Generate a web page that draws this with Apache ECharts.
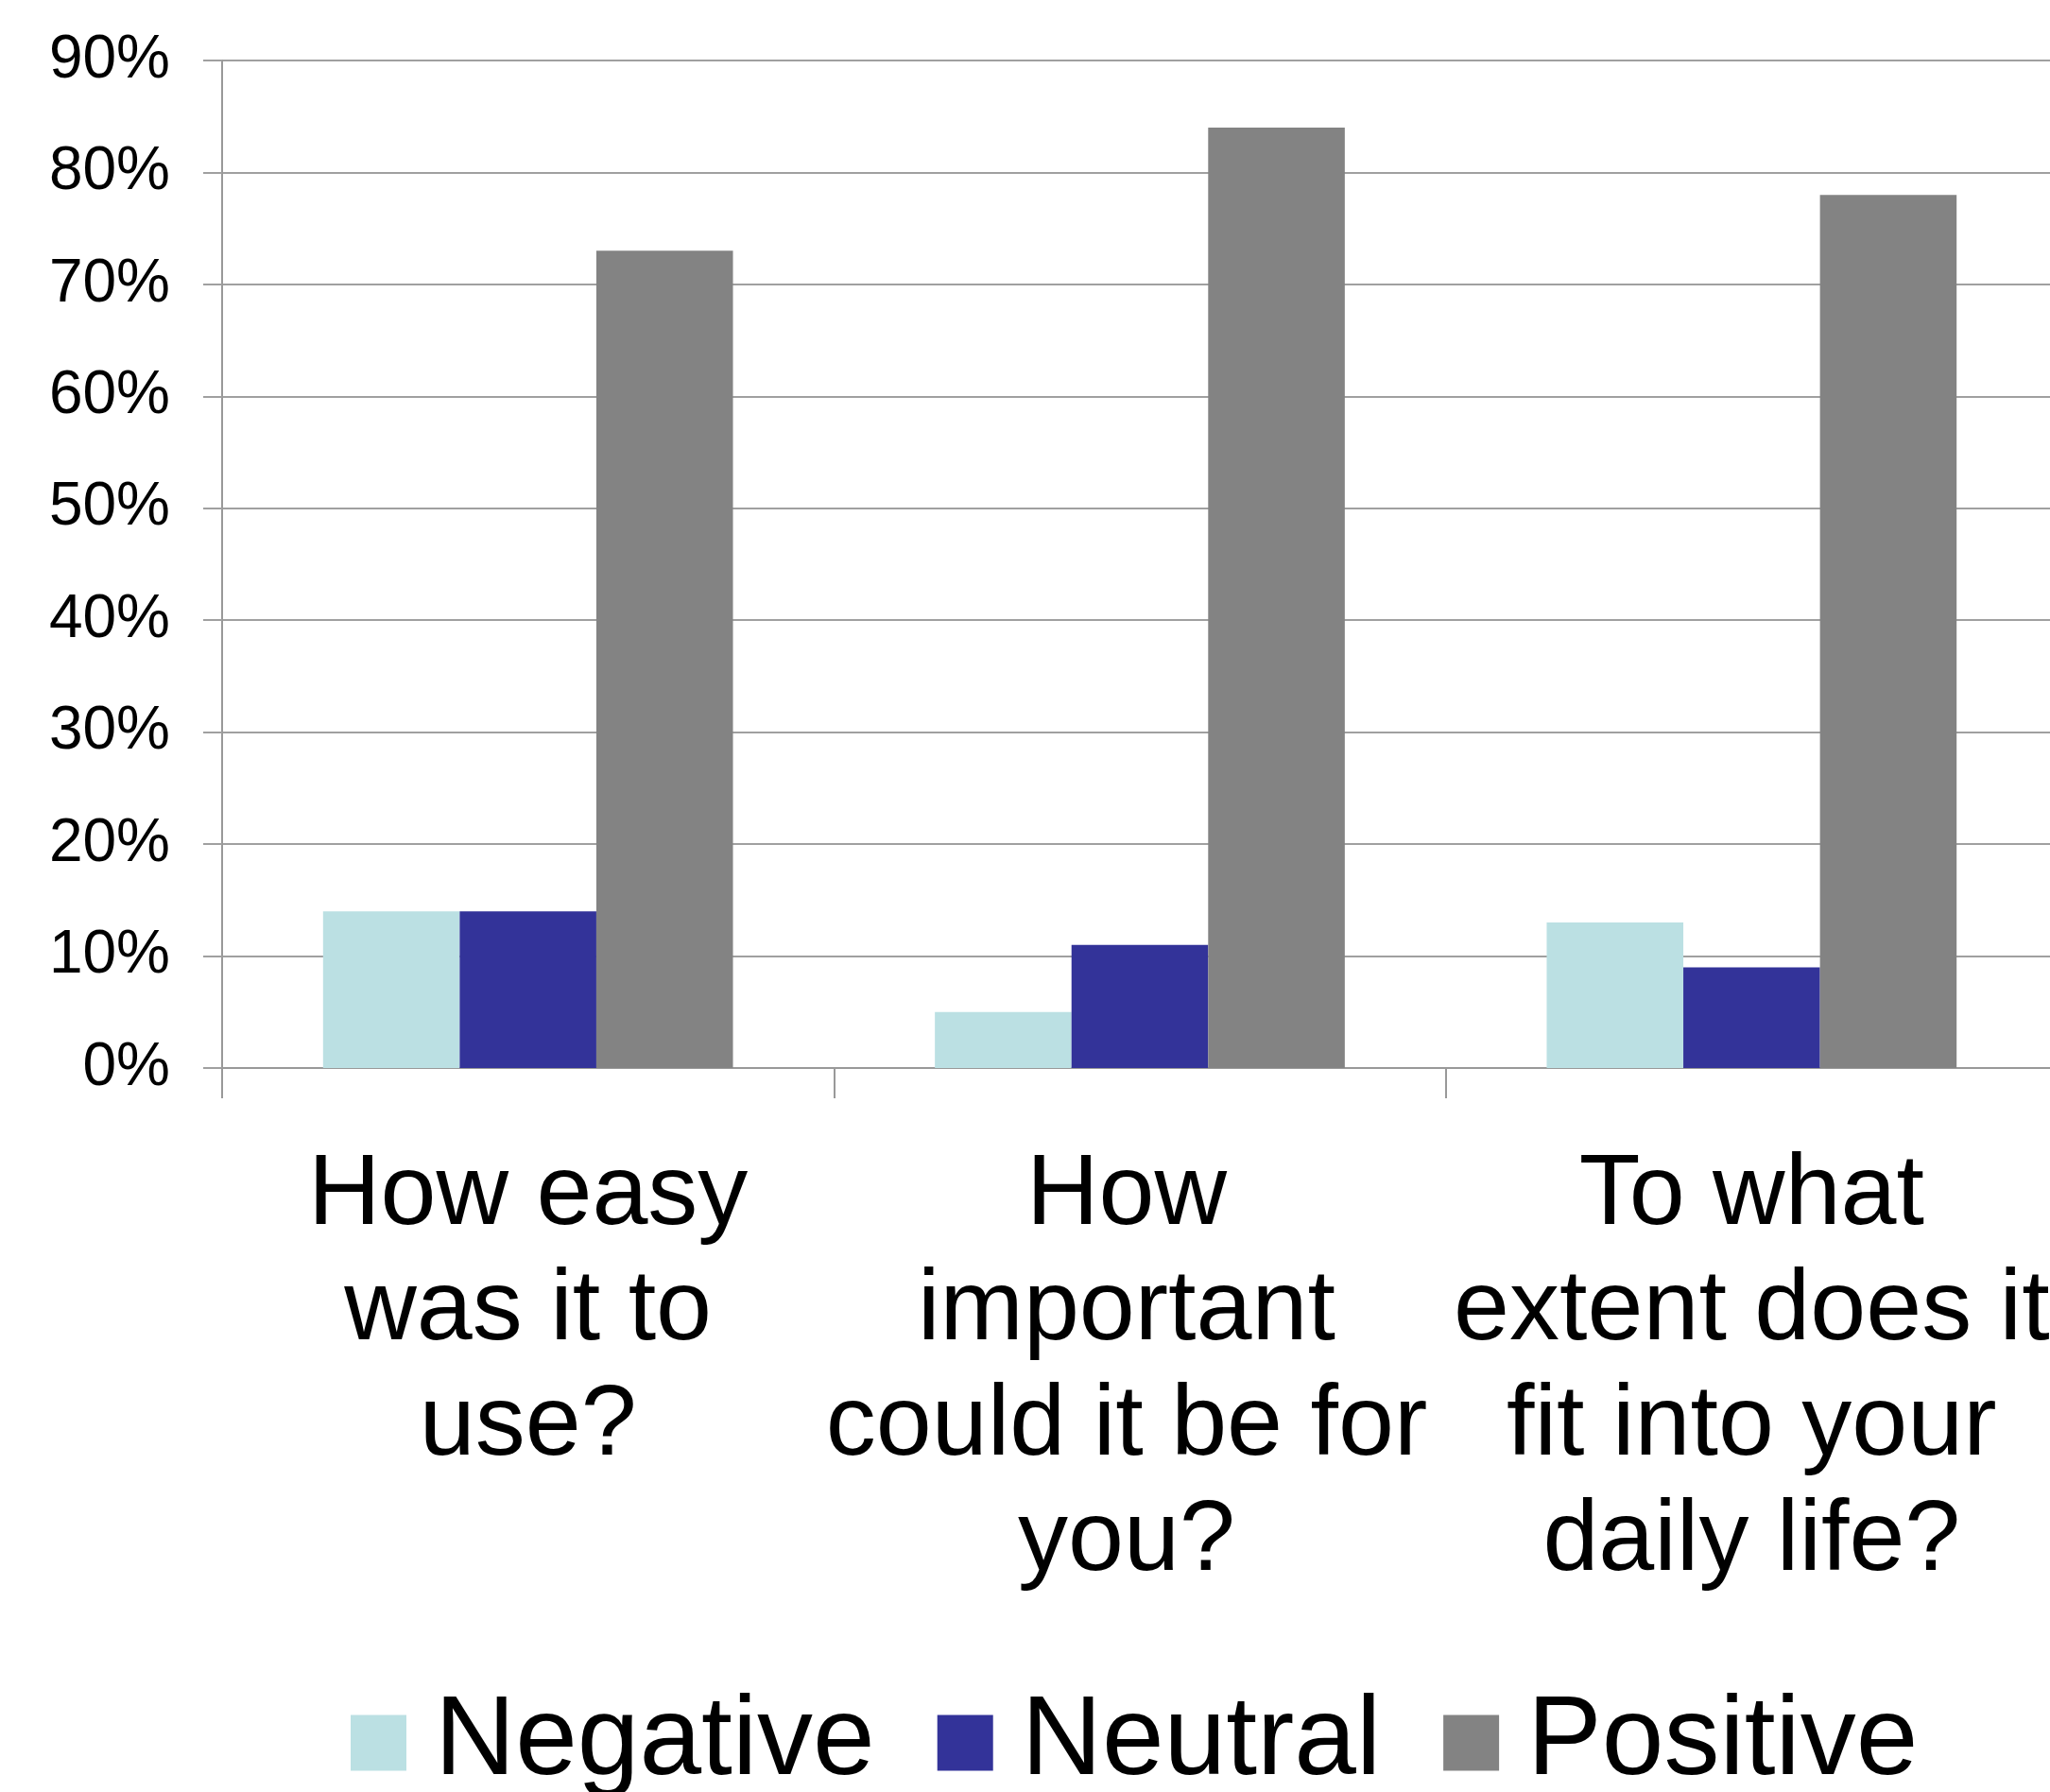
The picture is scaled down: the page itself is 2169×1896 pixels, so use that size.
<!DOCTYPE html>
<html>
<head>
<meta charset="utf-8">
<script src="https://cdn.jsdelivr.net/npm/echarts@6/dist/echarts.min.js"></script>
<style>
html,body{margin:0;padding:0;background:#fff;}
#chart{width:2169px;height:1896px;}
</style>
</head>
<body>
<div id="chart"></div>
<script>
const categories = [
  "How easy\nwas it to\nuse?",
  "How\nimportant\ncould it be for\nyou?",
  "To what\nextent does it\nfit into your\ndaily life?"
];
const seriesNames = ["Negative", "Neutral", "Positive"];
const negative = [14, 5, 13];
const neutral = [14, 11, 9];
const positive = [73, 84, 78];
const yTicks = [0, 10, 20, 30, 40, 50, 60, 70, 80, 90];

const colors = ["#BBE0E3", "#333399", "#838383"];
const font = "'Liberation Sans', Arial, sans-serif";

const chart = echarts.init(document.getElementById('chart'), null, {renderer: 'canvas'});
chart.setOption({
  animation: false,
  backgroundColor: '#ffffff',
  color: colors,
  grid: {left: 235, width: 1942, top: 64, bottom: 766, containLabel: false, outerBoundsMode: 'none'},
  legend: {
    left: 366,
    top: 1774,
    itemWidth: 59,
    itemHeight: 59,
    itemGap: 66,
    icon: 'rect',
    textStyle: {fontFamily: font, fontSize: 118, color: '#000', lineHeight: 130, padding: [0, 0, 0, 25]},
    data: seriesNames
  },
  xAxis: {
    type: 'category',
    data: categories.map((c, i) => i === 1 ? {value: c, textStyle: {padding: [0, 28, 0, 0]}} : c),
    axisLine: {show: true, lineStyle: {color: '#999999', width: 2}},
    axisTick: {show: true, length: 32, lineStyle: {color: '#999999', width: 2}},
    axisLabel: {interval: 0, margin: 75, fontFamily: font, fontSize: 106, lineHeight: 122, color: '#000', align: 'center'},
    splitLine: {show: false}
  },
  yAxis: {
    type: 'value',
    min: yTicks[0],
    max: yTicks[yTicks.length - 1],
    interval: 10,
    axisLine: {show: true, lineStyle: {color: '#999999', width: 2}},
    axisTick: {show: true, length: 20, lineStyle: {color: '#a0a0a0', width: 2}},
    axisLabel: {formatter: '{value}%', margin: 55, fontFamily: font, fontSize: 64, color: '#000'},
    splitLine: {show: true, lineStyle: {color: '#a0a0a0', width: 2}}
  },
  series: [
    {name: seriesNames[0], type: 'bar', data: negative, barGap: '0%', barCategoryGap: '33%'},
    {name: seriesNames[1], type: 'bar', data: neutral, barGap: '0%', barCategoryGap: '33%'},
    {name: seriesNames[2], type: 'bar', data: positive, barGap: '0%', barCategoryGap: '33%'}
  ]
});
</script>
</body>
</html>
